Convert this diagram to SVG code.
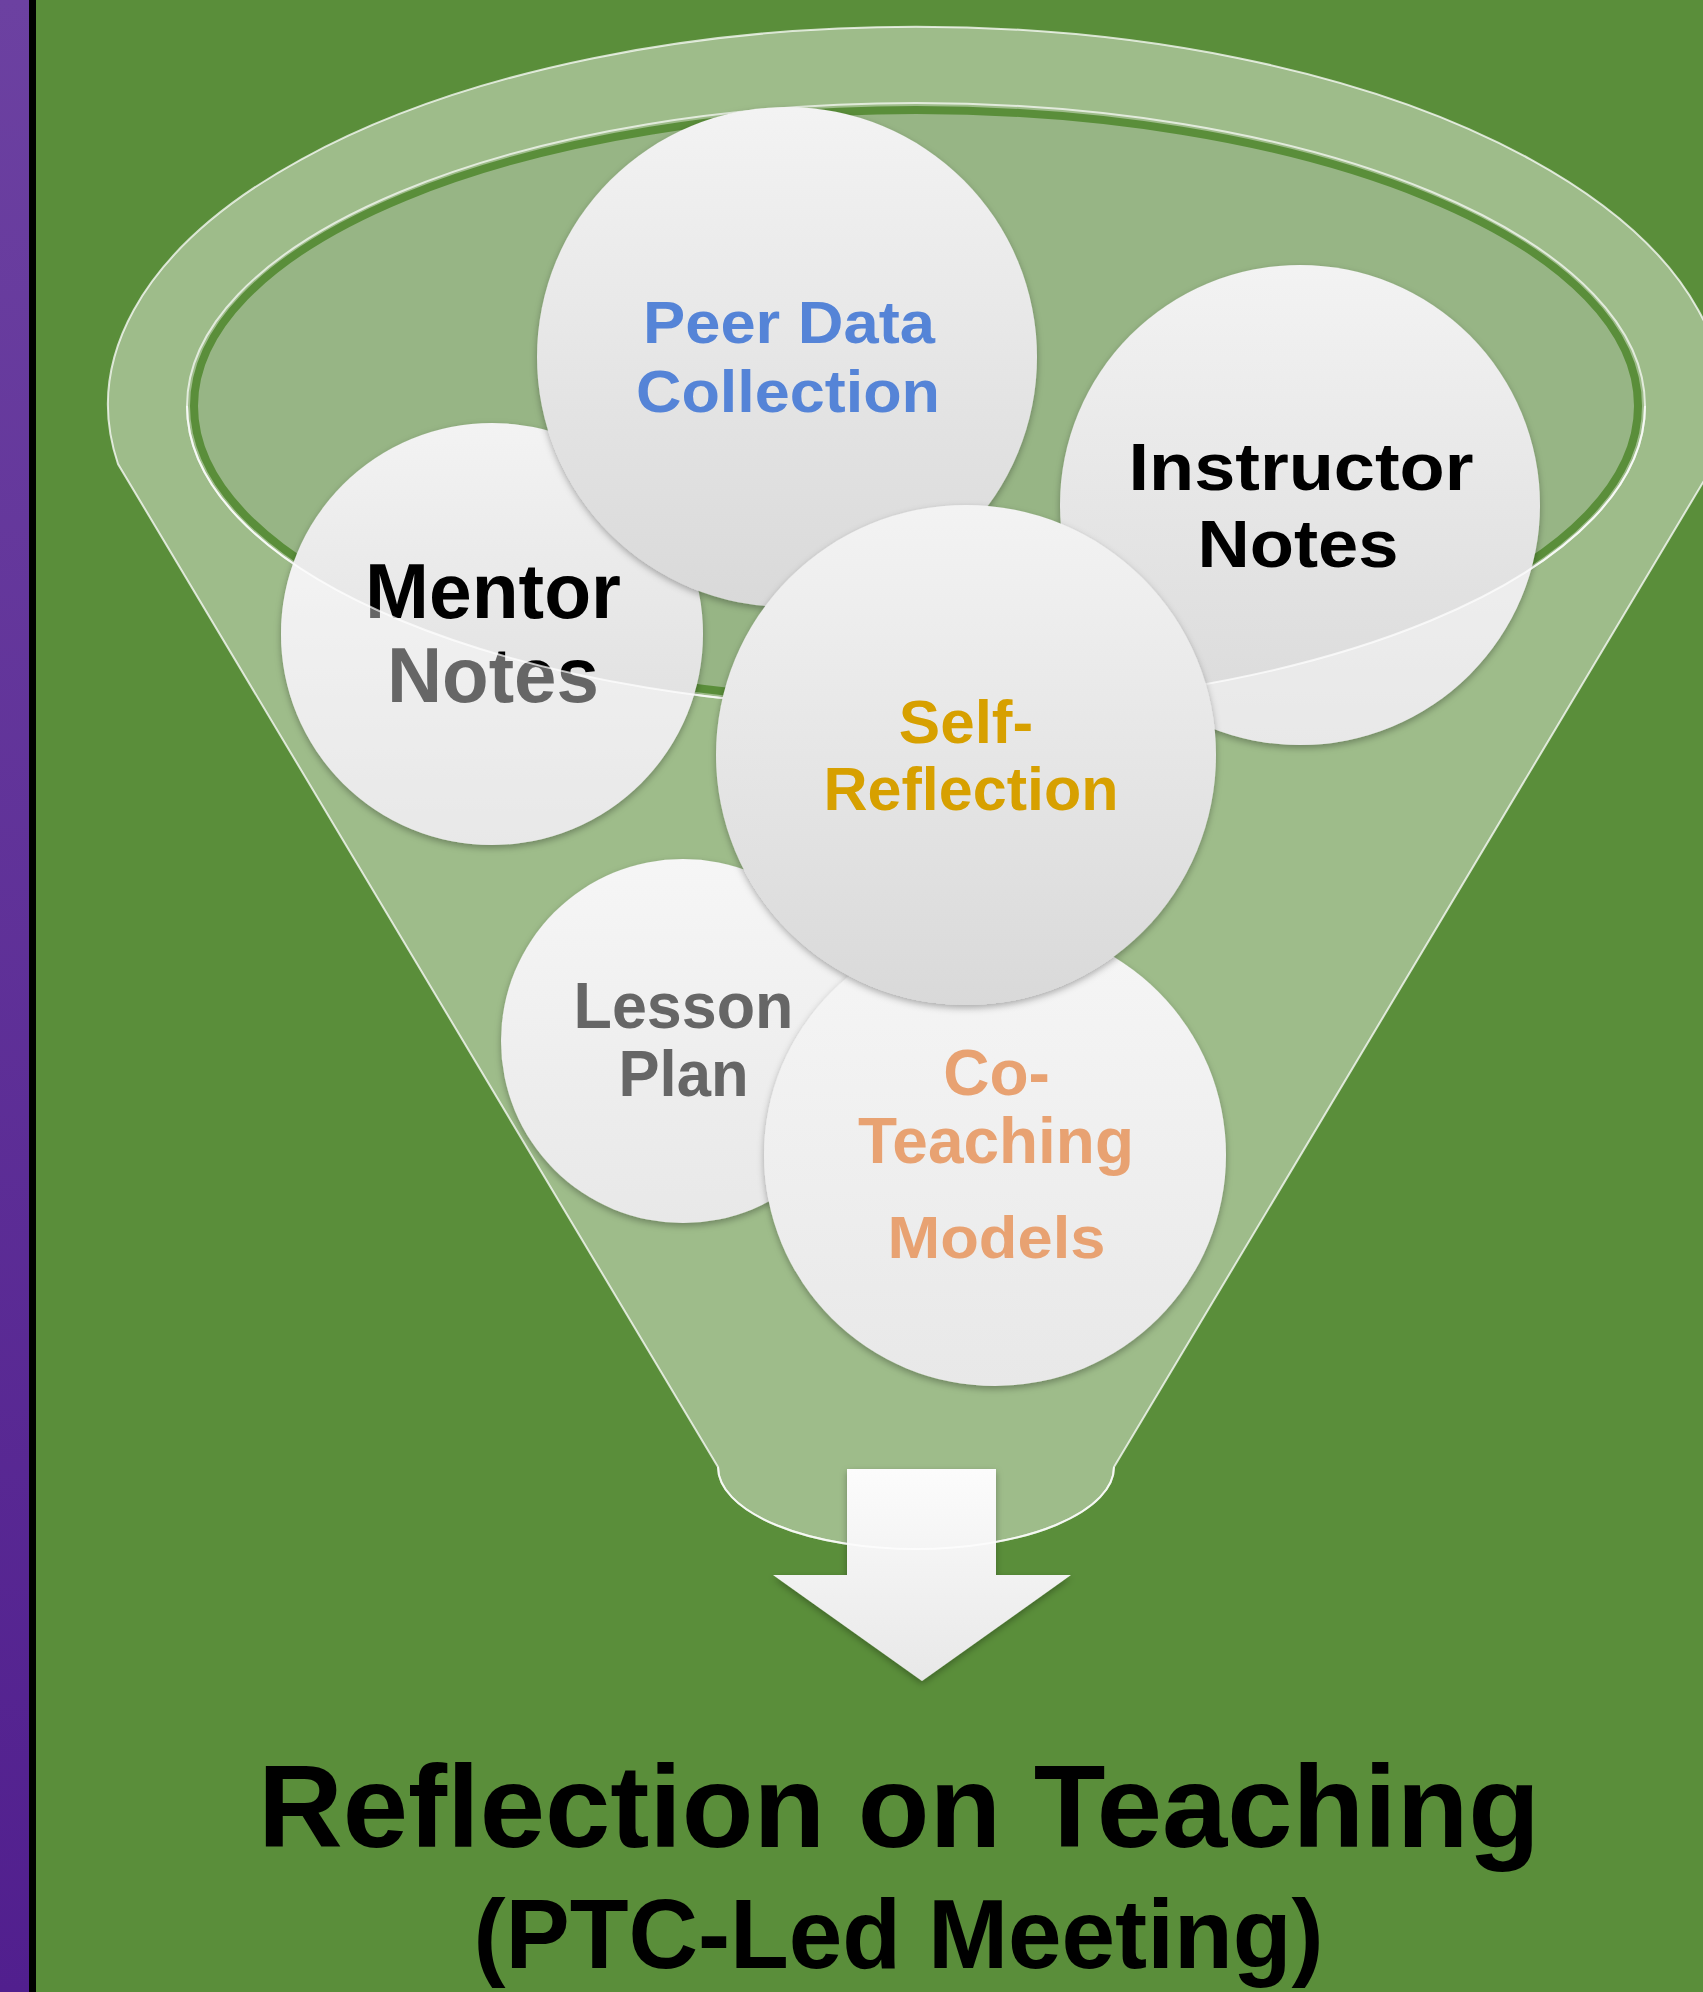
<svg xmlns="http://www.w3.org/2000/svg" width="1703" height="1992" viewBox="0 0 1703 1992">
  <defs>
    <style>
      .lbl { font-family: "Liberation Sans", Arial, sans-serif; font-weight: bold; text-anchor: middle; }
      .disc { fill: url(#discFill); filter: url(#softShadow); }
      .discLight { fill: url(#discFillLight); filter: url(#softShadow); }
      .rim { fill: none; stroke: #ffffff; stroke-opacity: 0.7; stroke-width: 2; }
    </style>
    <linearGradient id="stripFill" x1="0" y1="0" x2="0" y2="1">
      <stop offset="0" stop-color="#6C41A1"/>
      <stop offset="1" stop-color="#511F8E"/>
    </linearGradient>
    <linearGradient id="discFill" x1="0" y1="0" x2="0" y2="1">
      <stop offset="0" stop-color="#F3F3F3"/>
      <stop offset="1" stop-color="#D9D9D9"/>
    </linearGradient>
    <linearGradient id="discFillLight" x1="0" y1="0" x2="0" y2="1">
      <stop offset="0" stop-color="#F6F6F6"/>
      <stop offset="1" stop-color="#E8E8E8"/>
    </linearGradient>
    <linearGradient id="arrowFill" x1="0" y1="0" x2="0" y2="1">
      <stop offset="0" stop-color="#FCFCFC"/>
      <stop offset="1" stop-color="#E8E8E8"/>
    </linearGradient>
    <filter id="softShadow" x="-10%" y="-10%" width="120%" height="125%">
      <feDropShadow dx="0" dy="3" stdDeviation="3.5" flood-color="#000" flood-opacity="0.3"/>
    </filter>
    <!-- everything outside the funnel mouth -->
    <clipPath id="outsideMouth">
      <path clip-rule="evenodd" d="M0 0 H1703 V1992 H0 Z M187 406 A729 303 0 1 0 1645 406 A729 303 0 1 0 187 406 Z"/>
    </clipPath>
  </defs>

  <!-- background -->
  <rect x="0" y="0" width="1703" height="1992" fill="#5A8E3A"/>
  <rect x="0" y="0" width="29" height="1992" fill="url(#stripFill)"/>
  <rect x="29" y="0" width="7" height="1992" fill="#000"/>

  <!-- funnel body and mouth -->
  <g id="funnel">
    <path d="M118 464 A808 378 0 1 1 1714 464 L1114 1467 A198 82 0 0 1 718 1467 Z" fill="#9EBC8A" stroke="#ffffff" stroke-opacity="0.75" stroke-width="2"/>
    <ellipse cx="916" cy="406" rx="729" ry="303" class="rim"/>
    <ellipse cx="916" cy="406" rx="722" ry="296" fill="#97B585" stroke="#5A8E3A" stroke-width="8"/>
  </g>

  <g id="node-mentor">
    <circle cx="492" cy="634" r="211" class="disc"/>
    <text class="lbl" x="493" y="618" font-size="77" fill="#000" textLength="256" lengthAdjust="spacingAndGlyphs">Mentor</text>
    <text class="lbl" x="493" y="702" font-size="77" fill="#000" textLength="212" lengthAdjust="spacingAndGlyphs">Notes</text>
  </g>

  <g id="node-peer">
    <circle cx="787" cy="357" r="250" class="disc"/>
    <text class="lbl" x="789" y="343" font-size="59" fill="#5584D7" textLength="292" lengthAdjust="spacingAndGlyphs">Peer Data</text>
    <text class="lbl" x="788" y="412" font-size="59" fill="#5584D7" textLength="304" lengthAdjust="spacingAndGlyphs">Collection</text>
  </g>

  <g id="node-instructor">
    <circle cx="1300" cy="505" r="240" class="disc"/>
    <text class="lbl" x="1301" y="490" font-size="67" fill="#000" textLength="345" lengthAdjust="spacingAndGlyphs">Instructor</text>
    <text class="lbl" x="1298" y="567" font-size="67" fill="#000" textLength="201" lengthAdjust="spacingAndGlyphs">Notes</text>
  </g>

  <!-- front wall of the funnel seen over the discs below the mouth -->
  <g id="funnel-front" clip-path="url(#outsideMouth)">
    <circle cx="492" cy="634" r="211" fill="#fff" fill-opacity="0.4"/>
    <circle cx="1300" cy="505" r="240" fill="#fff" fill-opacity="0.4"/>
  </g>
  <path d="M187 406 A729 303 0 0 0 1645 406" class="rim" stroke-width="1.6"/>

  <g id="node-lesson">
    <circle cx="683" cy="1041" r="182" class="discLight"/>
    <text class="lbl" x="683.5" y="1028" font-size="64" fill="#666666" textLength="220" lengthAdjust="spacingAndGlyphs">Lesson</text>
    <text class="lbl" x="683.5" y="1096" font-size="64" fill="#666666" textLength="130" lengthAdjust="spacingAndGlyphs">Plan</text>
  </g>

  <g id="node-coteaching">
    <circle cx="995" cy="1155" r="231" class="discLight"/>
    <text class="lbl" x="996.5" y="1095" font-size="64" fill="#E8A272">Co-</text>
    <text class="lbl" x="996" y="1163" font-size="64" fill="#E8A272" textLength="276" lengthAdjust="spacingAndGlyphs">Teaching</text>
    <text class="lbl" x="996.5" y="1258" font-size="60" fill="#E8A272" textLength="218" lengthAdjust="spacingAndGlyphs">Models</text>
  </g>

  <g id="node-self">
    <circle cx="966" cy="755" r="250" class="disc"/>
    <text class="lbl" x="966" y="743" font-size="62" fill="#D7A000">Self-</text>
    <text class="lbl" x="971" y="810" font-size="61" fill="#D7A000">Reflection</text>
  </g>

  <g id="connectors">
    <path d="M847 1469 H996 V1575 H1071 L922 1681 L773 1575 H847 Z" fill="url(#arrowFill)" filter="url(#softShadow)"/>
    <!-- funnel spout edge passes in front of the arrow -->
    <path d="M718 1467 A198 82 0 0 0 1114 1467" class="rim" stroke="#E6E6E6" stroke-opacity="0.9"/>
  </g>

  <g id="node-result">
    <text class="lbl" x="899" y="1847" font-size="116" fill="#000" textLength="1282" lengthAdjust="spacingAndGlyphs">Reflection on Teaching</text>
    <text class="lbl" x="898.5" y="1968" font-size="98" fill="#000" textLength="850" lengthAdjust="spacingAndGlyphs">(PTC-Led Meeting)</text>
  </g>
</svg>
